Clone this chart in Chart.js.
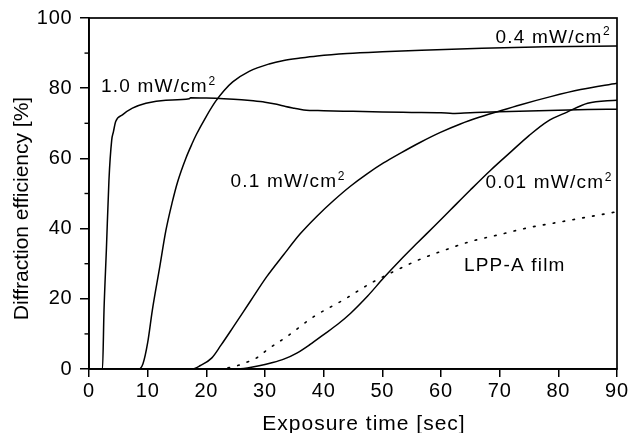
<!DOCTYPE html>
<html>
<head>
<meta charset="utf-8">
<script src="https://cdn.jsdelivr.net/npm/chart.js@4.4.1/dist/chart.umd.min.js"></script>
<style>
html,body{margin:0;padding:0;background:#fff;}
#wrap{width:629px;height:433px;position:relative;}
</style>
</head>
<body>
<div id="wrap"><canvas id="c"></canvas></div>
<script>
// ---- data ----
const xTickValues = [0, 10, 20, 30, 40, 50, 60, 70, 80, 90];
const yTickValues = [0, 20, 40, 60, 80, 100];
const yMinorTicks = [10, 30, 50, 70, 90];
const xTitle = 'Exposure time [sec]';
const yTitle = 'Diffraction efficiency [%]';

const seriesNames = ['1.0 mW/cm', '0.4 mW/cm', '0.1 mW/cm', '0.01 mW/cm', 'LPP-A film'];

const t10 = [0, 2.3, 2.56, 2.96, 3.4, 3.87, 4.15, 4.55, 5.7, 7.4, 9.7, 13.1, 17.1, 17.3, 20, 23, 26, 28, 30, 32, 33.5, 35, 36.6, 40, 45, 50, 55, 60, 62, 65, 70, 75, 80, 85, 90];
const e10 = [0, 0, 16.8, 33.9, 53.8, 65.2, 67.5, 70.5, 72.4, 74.3, 75.7, 76.6, 77.0, 77.3, 77.2, 77.0, 76.7, 76.4, 76.0, 75.4, 74.8, 74.3, 73.8, 73.6, 73.4, 73.2, 73.1, 73.0, 72.8, 73.0, 73.3, 73.5, 73.7, 73.9, 74.0];

const t04 = [0, 8.5, 9.2, 10.0, 10.8, 12.0, 13.1, 14.2, 15.1, 16.5, 17.6, 18.3, 20.0, 21.6, 23.0, 24.5, 27.3, 30.7, 33.2, 36.0, 38.9, 44.0, 50.0, 58.0, 67.0, 78.0, 90.0];
const e04 = [0, 0, 1.5, 7.5, 16.8, 28.5, 39.4, 47.6, 53.3, 60.0, 64.3, 66.8, 72.0, 76.3, 79.3, 81.8, 84.8, 86.9, 87.9, 88.6, 89.2, 89.9, 90.4, 90.9, 91.4, 91.8, 92.0];

const t01 = [0, 17.5, 19, 20.9, 22.5, 24.6, 27.5, 30.3, 33.2, 36, 38.9, 41.7, 44.5, 47.4, 50.2, 53.1, 56.5, 59.9, 63.3, 66.5, 69.6, 73.6, 78.7, 83.8, 90];
const e01 = [0, 0, 1, 3.1, 6.8, 12, 19.3, 26.3, 32.6, 38.5, 43.6, 48.0, 52.0, 55.6, 58.7, 61.5, 64.6, 67.4, 69.8, 71.7, 73.3, 75.3, 77.6, 79.6, 81.4];

const t001 = [0, 25, 27, 29, 31, 33.2, 35.5, 37.7, 40, 42.5, 44.6, 47.5, 50.2, 53, 55.9, 58.8, 61.6, 65, 68.5, 72, 75, 78.1, 81.5, 85, 90];
const e001 = [0, 0, 0.3, 0.9, 1.7, 2.8, 4.6, 7.0, 9.8, 12.9, 15.9, 20.8, 25.9, 30.9, 35.8, 40.6, 45.3, 51.0, 56.7, 62.0, 66.5, 70.5, 73.2, 75.7, 76.6];

const tLpp = [22, 23, 25, 27, 28.9, 30.3, 33.7, 38.3, 43.4, 48, 53.1, 56.5, 60, 65, 70, 75, 80, 85, 90];
const eLpp = [0, 0.2, 0.8, 2, 3.5, 5.4, 9.2, 14.9, 19.7, 24.4, 28.7, 31.3, 33.5, 36.3, 38.3, 40.3, 41.8, 43.3, 44.8];

// ---- build ----
const fam = '"Liberation Sans", Arial, Helvetica, sans-serif';
const pts = (xs, ys) => xs.map((v, i) => ({x: v, y: ys[i]}));

function ds(label, xs, ys, dash) {
  return {
    label: label,
    data: pts(xs, ys),
    borderColor: '#000',
    borderWidth: dash ? 1.6 : 1.5,
    borderDash: dash || [],
    borderCapStyle: dash ? 'round' : 'butt',
    pointRadius: 0,
    fill: false,
    cubicInterpolationMode: 'monotone'
  };
}

const decor = {
  id: 'decor',
  beforeDraw(chart) { chart.ctx.letterSpacing = '0.8px'; },
  afterDraw(chart) {
    const {ctx, chartArea: a, scales} = chart;
    const xs = scales.x, ys = scales.y;
    ctx.save();
    ctx.letterSpacing = '0px';
    ctx.strokeStyle = '#000';
    ctx.lineWidth = 1.7;
    ctx.strokeRect(a.left, a.top, a.right - a.left, a.bottom - a.top);
    // minor y ticks
    ctx.lineWidth = 1.4;
    yMinorTicks.forEach(v => {
      const py = ys.getPixelForValue(v);
      ctx.beginPath(); ctx.moveTo(a.left - 4.5, py); ctx.lineTo(a.left, py); ctx.stroke();
    });
    ctx.fillStyle = '#000';
    // axis titles
    ctx.font = '21px ' + fam;
    ctx.textBaseline = 'alphabetic';
    ctx.textAlign = 'center';
    ctx.letterSpacing = '1px';
    ctx.fillText(xTitle, 364, 430);
    ctx.save();
    ctx.translate(28.3, 208.5);
    ctx.rotate(-Math.PI / 2);
    ctx.letterSpacing = '0px';
    ctx.fillText(yTitle, 0, 0);
    ctx.restore();
    // curve labels (left/baseline anchor in data coordinates)
    const anchors = [[2.05, 78.9], [69.3, 93.0], [24.1, 51.8], [67.6, 51.5], [63.9, 27.9]];
    ctx.textAlign = 'left';
    seriesNames.forEach((name, i) => {
      const px = xs.getPixelForValue(anchors[i][0]);
      const py = ys.getPixelForValue(anchors[i][1]);
      ctx.font = '19px ' + fam;
      ctx.letterSpacing = '1.2px';
      ctx.fillText(name, px, py);
      if (i < 4) {
        const w = ctx.measureText(name).width;
        ctx.font = '12px ' + fam;
        ctx.letterSpacing = '0px';
        ctx.fillText('2', px + w + 0.5, py - 7.4);
      }
    });
    ctx.restore();
  }
};

new Chart(document.getElementById('c'), {
  type: 'line',
  data: {
    datasets: [
      ds(seriesNames[0], t10, e10),
      ds(seriesNames[1], t04, e04),
      ds(seriesNames[2], t01, e01),
      ds(seriesNames[3], t001, e001),
      ds(seriesNames[4], tLpp, eLpp, [1.6, 8.4])
    ]
  },
  options: {
    responsive: true,
    maintainAspectRatio: false,
    animation: false,
    devicePixelRatio: 1,
    layout: {padding: {left: 0, right: 12, top: 18, bottom: 0}},
    plugins: {legend: {display: false}, tooltip: {enabled: false}, title: {display: false}},
    elements: {line: {tension: 0}},
    scales: {
      x: {
        type: 'linear', min: 0, max: 90,
        afterBuildTicks(s) { s.ticks = xTickValues.map(v => ({value: v})); },
        afterFit(s) { s.height = 64; s.paddingLeft = 0; s.paddingRight = 0; },
        ticks: {color: '#000', font: {family: fam, size: 20}, padding: 2, maxRotation: 0, autoSkip: false},
        grid: {drawOnChartArea: false, drawTicks: true, tickLength: 8, color: '#000', lineWidth: 1.5},
        border: {display: true, color: '#000', width: 1.7},
        title: {display: false}
      },
      y: {
        type: 'linear', min: 0, max: 100,
        afterBuildTicks(s) { s.ticks = yTickValues.map(v => ({value: v})); },
        afterFit(s) { s.width = 89; s.paddingTop = 0; s.paddingBottom = 0; },
        ticks: {color: '#000', font: {family: fam, size: 20}, padding: 7.5, autoSkip: false},
        grid: {drawOnChartArea: false, drawTicks: true, tickLength: 9, color: '#000', lineWidth: 1.5},
        border: {display: true, color: '#000', width: 1.7},
        title: {display: false}
      }
    }
  },
  plugins: [decor]
});
</script>
</body>
</html>
